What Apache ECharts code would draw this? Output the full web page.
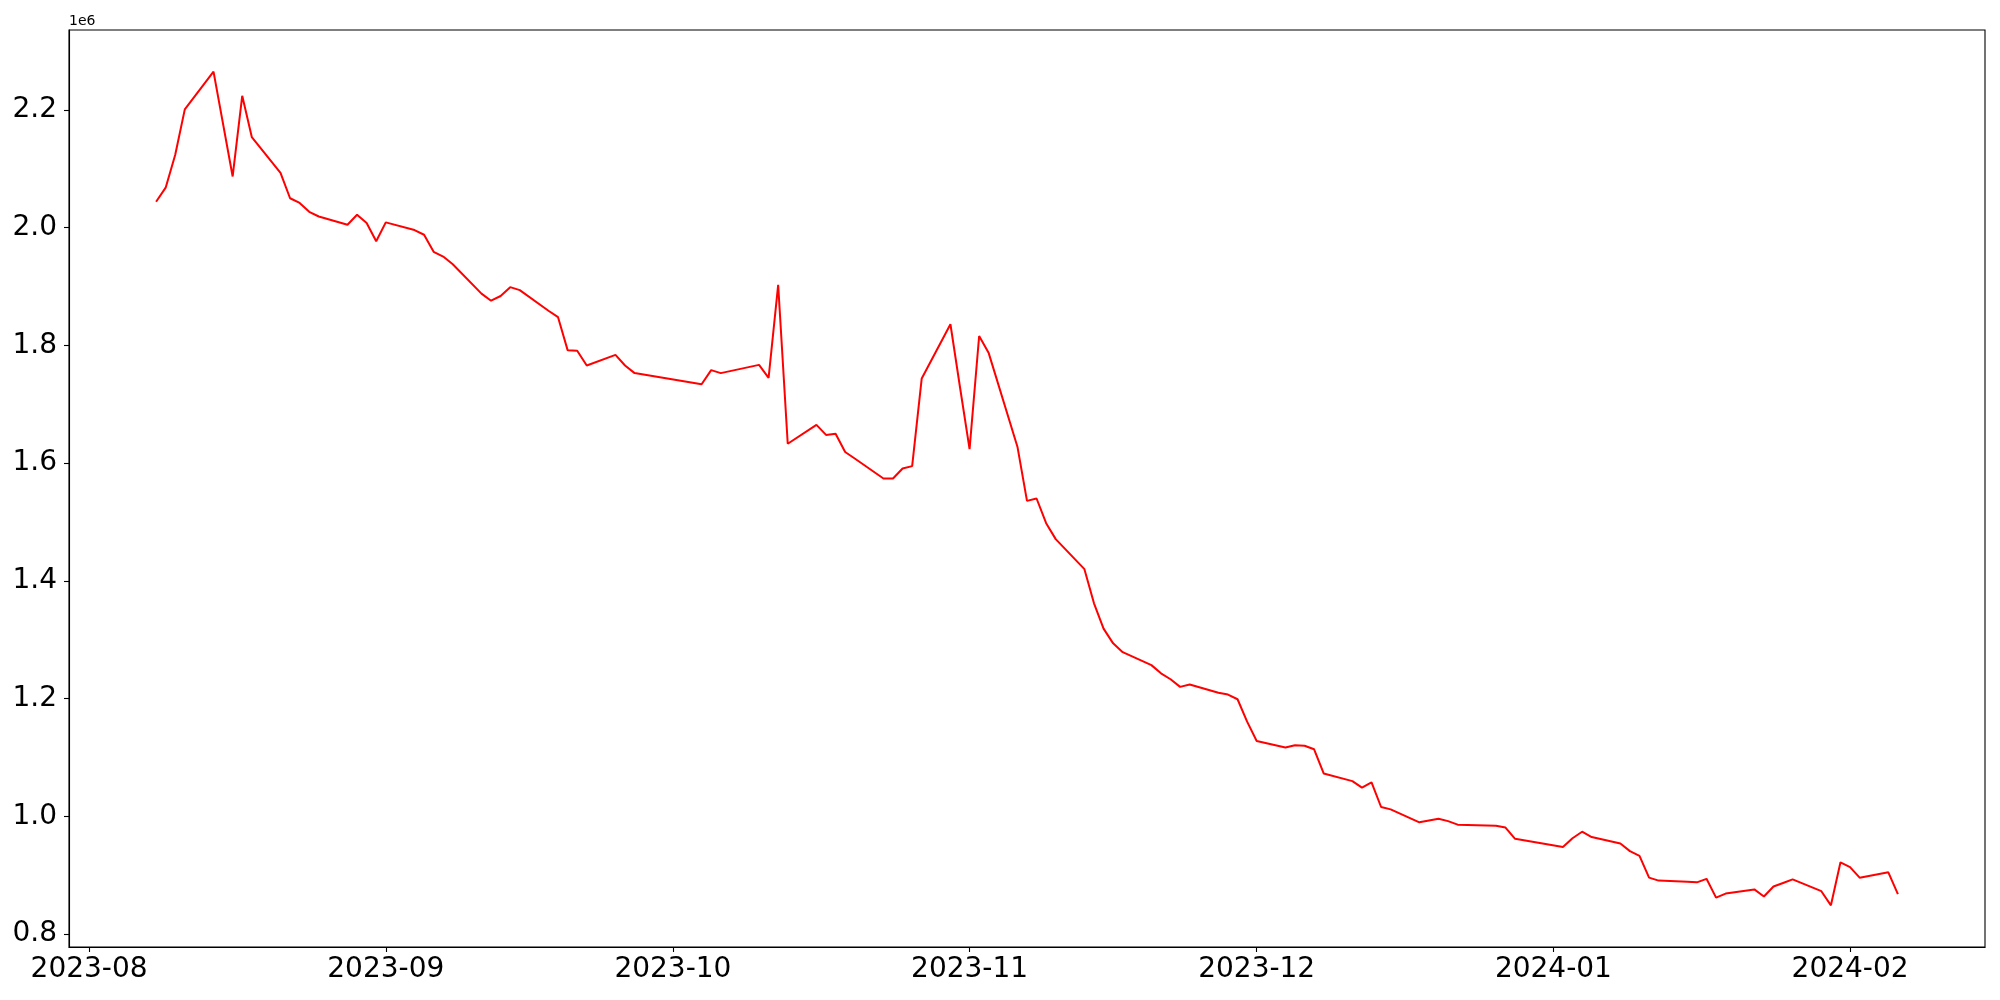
<!DOCTYPE html>
<html>
<head>
<meta charset="utf-8">
<script src="https://cdn.jsdelivr.net/npm/echarts@6/dist/echarts.min.js"></script>
<style>
html,body{margin:0;padding:0;background:#fff;}
#chart{width:2000px;height:1000px;}
</style>
</head>
<body>
<div id="chart"></div>
<script>
// ---- data (values in units of 1e6) ----
const dates = [
'2023-08-08','2023-08-09','2023-08-10','2023-08-11','2023-08-14','2023-08-16','2023-08-17','2023-08-18',
'2023-08-21','2023-08-22','2023-08-23','2023-08-24','2023-08-25',
'2023-08-28','2023-08-29','2023-08-30','2023-08-31','2023-09-01',
'2023-09-04','2023-09-05','2023-09-06','2023-09-07','2023-09-08',
'2023-09-11','2023-09-12','2023-09-13','2023-09-14','2023-09-15',
'2023-09-18','2023-09-19','2023-09-20','2023-09-21','2023-09-22',
'2023-09-25','2023-09-26','2023-09-27',
'2023-10-04','2023-10-05','2023-10-06',
'2023-10-10','2023-10-11','2023-10-12','2023-10-13',
'2023-10-16','2023-10-17','2023-10-18','2023-10-19','2023-10-20',
'2023-10-23','2023-10-24','2023-10-25','2023-10-26','2023-10-27',
'2023-10-30','2023-10-31','2023-11-01','2023-11-02','2023-11-03',
'2023-11-06','2023-11-07','2023-11-08','2023-11-09','2023-11-10',
'2023-11-13','2023-11-14','2023-11-15','2023-11-16','2023-11-17',
'2023-11-20','2023-11-21','2023-11-22','2023-11-23','2023-11-24',
'2023-11-27','2023-11-28','2023-11-29','2023-11-30','2023-12-01',
'2023-12-04','2023-12-05','2023-12-06','2023-12-07','2023-12-08',
'2023-12-11','2023-12-12','2023-12-13','2023-12-14','2023-12-15',
'2023-12-18','2023-12-19','2023-12-20','2023-12-21','2023-12-22',
'2023-12-26','2023-12-27','2023-12-28',
'2024-01-02','2024-01-03','2024-01-04','2024-01-05',
'2024-01-08','2024-01-09','2024-01-10','2024-01-11','2024-01-12',
'2024-01-15','2024-01-16','2024-01-17','2024-01-18','2024-01-19',
'2024-01-22','2024-01-23','2024-01-24','2024-01-25','2024-01-26',
'2024-01-29','2024-01-30','2024-01-31','2024-02-01','2024-02-02',
'2024-02-05','2024-02-06'
];
const values = [
2.044, 2.068, 2.124, 2.201, 2.265, 2.087, 2.224, 2.154,
2.093, 2.050, 2.042, 2.027, 2.019,
2.005, 2.022, 2.008, 1.977, 2.009,
1.996, 1.988, 1.959, 1.951, 1.938,
1.888, 1.876, 1.884, 1.899, 1.894,
1.859, 1.848, 1.792, 1.791, 1.766,
1.784, 1.766, 1.753,
1.734, 1.758, 1.753,
1.767, 1.745, 1.903, 1.633,
1.665, 1.648, 1.650, 1.619, 1.608,
1.574, 1.574, 1.591, 1.595, 1.744,
1.836, 1.729, 1.624, 1.816, 1.787,
1.628, 1.536, 1.540, 1.498, 1.471,
1.420, 1.362, 1.319, 1.294, 1.279,
1.257, 1.243, 1.233, 1.220, 1.224,
1.210, 1.207, 1.199, 1.161, 1.128,
1.117, 1.121, 1.120, 1.114, 1.073,
1.060, 1.049, 1.058, 1.016, 1.012,
0.990, 0.993, 0.996, 0.992, 0.986,
0.984, 0.981, 0.962,
0.948, 0.963, 0.974, 0.965,
0.954, 0.941, 0.933, 0.896, 0.891,
0.889, 0.888, 0.894, 0.862, 0.869,
0.876, 0.864, 0.881, 0.887, 0.893,
0.873, 0.849, 0.922, 0.914, 0.896,
0.905, 0.868
];
const xTickLabels = ['2023-08','2023-09','2023-10','2023-11','2023-12','2024-01','2024-02'];
const yTicks = [0.8, 1.0, 1.2, 1.4, 1.6, 1.8, 2.0, 2.2];
const offsetText = '1e6';

// ---- helpers ----
function localTs(s) {
  const p = s.split('-').map(Number);
  return new Date(p[0], p[1] - 1, p[2] || 1).getTime();
}
const ts = dates.map(localTs);
const seriesData = ts.map((t, i) => [t, values[i]]);
const xFirst = Math.min(...ts), xLast = Math.max(...ts);
const xSpan = xLast - xFirst;
const vMin = Math.min(...values), vMax = Math.max(...values);
const vSpan = vMax - vMin;
const xTickTs = xTickLabels.map(localTs);

const font = 'DejaVu Sans';
const chart = echarts.init(document.getElementById('chart'), null, {renderer: 'canvas'});
chart.setOption({
  animation: false,
  backgroundColor: '#ffffff',
  title: {
    text: offsetText, left: 69, top: 14, padding: 0,
    textStyle: {fontFamily: font, fontSize: 14, fontWeight: 'normal', color: '#000'}
  },
  grid: {
    left: 69, right: 15, top: 30, bottom: 53,
    show: true, borderColor: '#000', borderWidth: 1.1, backgroundColor: 'transparent',
    containLabel: false
  },
  xAxis: {
    type: 'value',
    scale: true,
    min: xFirst - 0.05 * xSpan,
    max: xLast + 0.05 * xSpan,
    axisLine: {show: true, lineStyle: {color: '#000', width: 1.1}},
    axisTick: {show: true, length: 5, inside: false, lineStyle: {color: '#000', width: 1.1}, customValues: xTickTs},
    axisLabel: {
      show: true, customValues: xTickTs, margin: 9,
      fontFamily: font, fontSize: 28, color: '#000',
      formatter: function (v) {
        const d = new Date(v);
        return d.getFullYear() + '-' + String(d.getMonth() + 1).padStart(2, '0');
      }
    },
    splitLine: {show: false}
  },
  yAxis: {
    type: 'value',
    scale: true,
    min: vMin - 0.05 * vSpan,
    max: vMax + 0.05 * vSpan,
    axisLine: {show: true, lineStyle: {color: '#000', width: 1.1}},
    axisTick: {show: true, length: 5, inside: false, lineStyle: {color: '#000', width: 1.1}, customValues: yTicks},
    axisLabel: {
      show: true, customValues: yTicks, margin: 12,
      fontFamily: font, fontSize: 28, color: '#000',
      formatter: function (v) { return Number(v).toFixed(1); }
    },
    splitLine: {show: false}
  },
  series: [{
    type: 'line',
    data: seriesData,
    showSymbol: false,
    symbol: 'none',
    lineStyle: {color: '#ff0000', width: 2},
    itemStyle: {color: '#ff0000'},
    smooth: false
  }]
});
</script>
</body>
</html>
